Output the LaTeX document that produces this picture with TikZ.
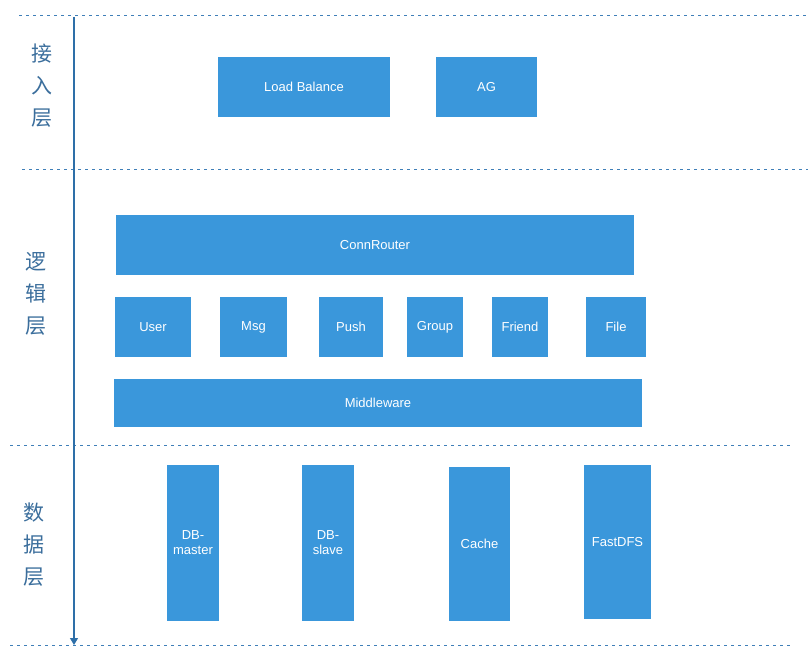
\documentclass[tikz,border=0pt]{standalone}
\usepackage{fontspec}
\setmainfont{Liberation Sans}
\newfontfamily\cjk{Noto Sans CJK SC}
\usetikzlibrary{arrows.meta}
\definecolor{boxblue}{HTML}{3A97DB}
\definecolor{lineblue}{HTML}{2E6FA8}
\definecolor{dotblue}{HTML}{3F7FB8}
\definecolor{labelblue}{HTML}{3B6E9C}
\tikzset{
  blk/.style={fill=boxblue, draw=none, text=white, font=\fontsize{13}{15}\selectfont, align=center, inner sep=0pt},
  sep/.style={dotblue, line width=1pt, dash pattern=on 2.5pt off 4.5pt},
  lay/.style={text=labelblue, font=\cjk\fontsize{21}{32}\selectfont, align=center, inner sep=0pt}
}
\newcommand{\bx}[6]{\node[blk, minimum width=#4pt-#2pt, minimum height=#5pt-#3pt] (#1) at ({(#2+#4)/2},{(#3+#5)/2}) {#6};}
\begin{document}
\begin{tikzpicture}[x=1pt,y=-1pt]
\useasboundingbox (0,0) rectangle (808,658);
% separators
\coordinate (s1a) at (19,16); \coordinate (s1b) at (808,16);
\coordinate (s2a) at (22,169); \coordinate (s2b) at (808,169);
\coordinate (s3a) at (10,445); \coordinate (s3b) at (790,445);
\coordinate (s4a) at (10,645); \coordinate (s4b) at (790,645);
\draw[sep] (s1a) -- (s1b);
\draw[sep] (s2a) -- (s2b);
\draw[sep] (s3a) -- (s3b);
\draw[sep] (s4a) -- (s4b);
% axis
\coordinate (ax1) at (74,17); \coordinate (ax2) at (74,645);
\draw[lineblue, line width=1.3pt, -{Triangle[width=8pt,length=7pt]}] (ax1) -- (ax2);
% layer labels
\node[lay] (l1) at (42,86) {接\\入\\层};
\node[lay] (l2) at (36,294) {逻\\辑\\层};
\node[lay] (l3) at (34,545) {数\\据\\层};
% boxes
\bx{lb}{218}{57}{390}{117}{Load Balance}
\bx{ag}{436}{57}{537}{117}{AG}
\bx{cr}{116}{215}{634}{275}{ConnRouter}
\bx{user}{115}{297}{191}{357}{User}
\bx{msg}{220}{297}{287}{357}{Msg}
\bx{push}{319}{297}{383}{357}{Push}
\bx{group}{407}{297}{463}{357}{Group}
\bx{friend}{492}{297}{548}{357}{Friend}
\bx{file}{586}{297}{646}{357}{File}
\bx{mw}{114}{379}{642}{427}{Middleware}
\bx{dbm}{167}{465}{219}{621}{DB-\\master}
\bx{dbs}{302}{465}{354}{621}{DB-\\slave}
\bx{cache}{449}{467}{510}{621}{Cache}
\bx{fdfs}{584}{465}{651}{619}{FastDFS}
\end{tikzpicture}
\end{document}
